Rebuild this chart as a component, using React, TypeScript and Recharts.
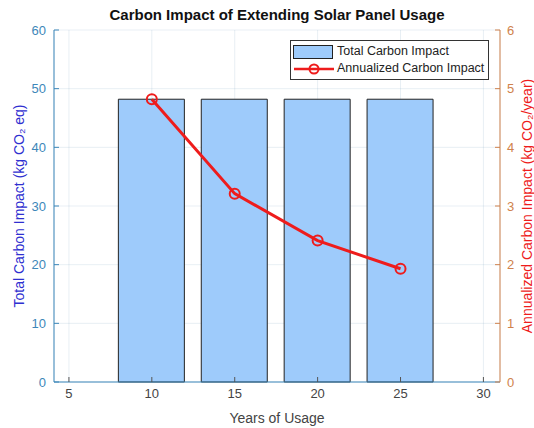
import {
  ComposedChart, Bar, Line, XAxis, YAxis, CartesianGrid,
} from 'recharts'

const years = [10, 15, 20, 25]
const totalImpact = [48.2, 48.2, 48.2, 48.2]
const annualImpact = [4.82, 3.21, 2.41, 1.93]

const xTicks = [5, 10, 15, 20, 25, 30]
const leftTicks = [0, 10, 20, 30, 40, 50, 60]
const rightTicks = [0, 1, 2, 3, 4, 5, 6]

const data = years.map((y, i) => ({ year: y, total: totalImpact[i], annual: annualImpact[i] }))

const FONT = '"Liberation Sans", Arial, sans-serif'
const LEFT = '#3d87b9'
const RIGHT = '#d0824c'
const BAR = '#9ecbfb'
const RED = '#ee1c1c'

function LegendBox() {
  return (
    <div style={{
      position: 'absolute', top: 40, left: 290, width: 199,
      border: '1px solid #333', background: '#fff', fontFamily: FONT, fontSize: 12.5,
      color: '#222', padding: '2px 2px', lineHeight: '17px', boxSizing: 'border-box',
      whiteSpace: 'nowrap', overflow: 'hidden',
    }}>
      <div style={{ display: 'flex', alignItems: 'center' }}>
        <span style={{ display: 'inline-block', width: 38, height: 12, background: BAR, border: '1px solid #222', marginRight: 4, flexShrink: 0 }} />
        Total Carbon Impact
      </div>
      <div style={{ display: 'flex', alignItems: 'center' }}>
        <svg width={42} height={14} style={{ marginRight: 2, flexShrink: 0 }}>
          <line x1={1} y1={7} x2={41} y2={7} stroke={RED} strokeWidth={2.5} />
          <circle cx={21} cy={7} r={4.5} fill="none" stroke={RED} strokeWidth={2} />
        </svg>
        Annualized Carbon Impact
      </div>
    </div>
  )
}

export default function App() {
  return (
    <div style={{ position: 'absolute', left: 0, top: 0, width: 534, height: 428, background: '#fff', overflow: 'hidden' }}>
      <div style={{
        position: 'absolute', top: 6, left: 54, width: 446, textAlign: 'center',
        fontFamily: FONT, fontWeight: 'bold', fontSize: 15, color: '#111',
      }}>
        Carbon Impact of Extending Solar Panel Usage
      </div>
      <ComposedChart width={534} height={428} data={data}
        margin={{ top: 30, right: 0, left: 0, bottom: 0 }}
        style={{ fontFamily: FONT }}>
        <XAxis dataKey="year" type="number" domain={[4.1, 31]} ticks={xTicks} height={46}
          interval={0} allowDataOverflow
          tick={{ fill: '#444', fontSize: 13 }} tickSize={-5} tickMargin={12}
          axisLine={{ stroke: LEFT }} tickLine={{ stroke: '#555' }}
          label={{ value: 'Years of Usage', position: 'insideBottom', offset: 5, fill: '#444', fontSize: 14 }} />
        <YAxis yAxisId="left" domain={[0, 60]} ticks={leftTicks} width={54} interval={0}
          tick={{ fill: LEFT, fontSize: 13 }} tickSize={-5} tickMargin={13}
          axisLine={{ stroke: LEFT }} tickLine={{ stroke: LEFT }}
          label={{ value: 'Total Carbon Impact (kg CO₂ eq)', angle: -90, position: 'insideLeft', offset: 19, fill: '#2f2fd0', fontSize: 14, style: { textAnchor: 'middle' } }} />
        <YAxis yAxisId="right" orientation="right" domain={[0, 6]} ticks={rightTicks} width={34} interval={0}
          tick={{ fill: RIGHT, fontSize: 13 }} tickSize={-5} tickMargin={12}
          axisLine={{ stroke: RIGHT }} tickLine={{ stroke: RIGHT }}
          label={{ value: 'Annualized Carbon Impact (kg CO₂/year)', angle: -90, position: 'insideRight', offset: 7, fill: RED, fontSize: 14, style: { textAnchor: 'middle' } }} />
        <Bar yAxisId="left" dataKey="total" barSize={66} fill={BAR} stroke="#222" strokeWidth={1}
          isAnimationActive={false} />
        {/* grid drawn over the bars, faint, like MATLAB */}
        <CartesianGrid yAxisId="left" stroke="#6f9bb8" strokeOpacity={0.16} />
        <Line yAxisId="right" dataKey="annual" stroke={RED} strokeWidth={3} type="linear"
          dot={{ r: 5, fill: 'none', stroke: RED, strokeWidth: 2 }} activeDot={false}
          isAnimationActive={false} />
      </ComposedChart>
      <LegendBox />
    </div>
  )
}
